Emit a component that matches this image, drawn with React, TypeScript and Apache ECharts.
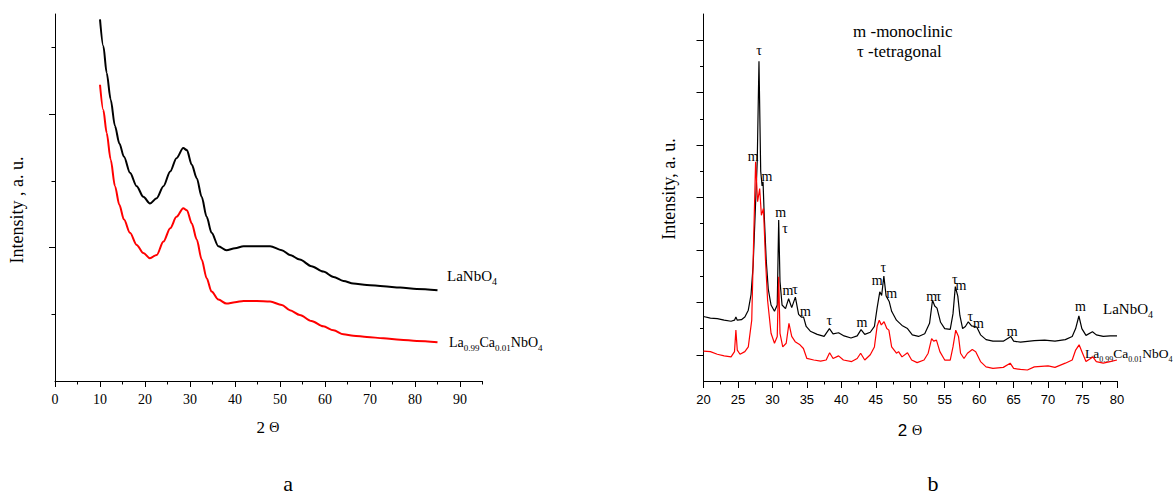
import React, { useEffect, useRef } from "react";
import * as echarts from "echarts";

// ---------- Panel a (amorphous precursors) ----------
const leftTheta = [10, 10.74, 11.48, 12.37, 13.33, 14.3, 15.33, 16.67, 18.15, 19.63, 21.1, 22.6, 24.1, 25.6, 27.0, 28.5, 29.3, 30.4, 31.5, 32.6, 33.7, 34.8, 36.3, 38.1, 40, 41.9, 44.8, 47.8, 50.4, 52.2, 54.4, 57.0, 59.6, 61.9, 64.1, 66.3, 69.3, 73, 76.7, 80.4, 85];
const leftLaNbO4 = [2.71, 2.51, 2.31, 2.11, 1.91, 1.78, 1.68, 1.56, 1.46, 1.38, 1.33, 1.37, 1.46, 1.57, 1.67, 1.745, 1.73, 1.62, 1.52, 1.38, 1.23, 1.11, 1.01, 0.98, 0.995, 1.01, 1.01, 1.01, 0.98, 0.945, 0.91, 0.86, 0.82, 0.78, 0.75, 0.73, 0.72, 0.71, 0.70, 0.69, 0.68];
const leftLaCa = [2.22, 2.03, 1.86, 1.66, 1.46, 1.32, 1.21, 1.11, 1.02, 0.96, 0.92, 0.945, 1.045, 1.145, 1.23, 1.295, 1.28, 1.18, 1.06, 0.91, 0.77, 0.67, 0.61, 0.58, 0.59, 0.60, 0.60, 0.595, 0.57, 0.53, 0.495, 0.45, 0.41, 0.38, 0.35, 0.34, 0.33, 0.32, 0.31, 0.30, 0.29];
const leftXTicks = [0, 10, 20, 30, 40, 50, 60, 70, 80, 90];
const leftXMinor = [5, 15, 25, 35, 45, 55, 65, 75, 85, 95];
const leftYMajor = [1, 2];
const leftYMinor = [0.5, 1.5, 2.5];

// ---------- Panel b (calcined samples) ----------
const rightLaNbO4: [number, number][] = [
  [20, 1.23], [21, 1.2], [22, 1.19], [23, 1.16], [24, 1.14], [24.5, 1.16], [24.7, 1.22], [24.9, 1.16],
  [25.5, 1.17], [26, 1.22], [26.5, 1.35], [26.9, 1.65], [27.2, 2.2], [27.5, 3.2], [27.8, 4.2], [28.05, 6.1],
  [28.3, 4.0], [28.5, 3.72], [28.64, 3.8], [28.8, 3.2], [29.1, 2.3], [29.4, 1.75], [29.8, 1.45], [30.3, 1.33],
  [30.7, 1.45], [30.91, 3.07], [31.1, 1.9], [31.4, 1.45], [31.9, 1.38], [32.35, 1.57], [32.8, 1.4], [33.33, 1.6],
  [33.8, 1.27], [34.2, 1.22], [34.52, 1.22], [34.9, 1.04], [35.5, 0.95], [36.5, 0.89], [37.5, 0.85], [38.27, 1.0],
  [38.8, 0.9], [39.6, 0.92], [40.4, 0.86], [41.4, 0.82], [42.3, 0.86], [42.86, 0.98], [43.4, 0.89], [44.2, 0.93],
  [44.8, 1.04], [45.2, 1.4], [45.58, 1.7], [45.85, 1.63], [46.17, 2.0], [46.5, 1.62], [46.96, 1.51], [47.3, 1.33],
  [48, 1.16], [48.8, 1.06], [49.6, 1.0], [50.3, 0.88], [51.2, 0.85], [52.1, 0.9], [52.8, 1.1], [53.23, 1.54],
  [53.55, 1.43], [53.88, 1.39], [54.4, 1.12], [55, 1.0], [55.8, 0.985], [56.2, 1.28], [56.54, 1.8], [56.9, 1.62],
  [57.2, 1.25], [57.6, 1.0], [58, 1.04], [58.42, 1.13], [58.9, 1.05], [59.65, 1.03], [60.2, 0.88], [61, 0.79],
  [62, 0.76], [63.5, 0.76], [64.6, 0.85], [65, 0.76], [66, 0.74], [68, 0.77], [69.5, 0.78], [71, 0.76],
  [72.5, 0.79], [73.5, 0.85], [74, 1.0], [74.47, 1.24], [74.9, 1.0], [75.5, 0.87], [76.44, 0.94], [77, 0.88],
  [78, 0.85], [79, 0.86], [80, 0.86],
];
const rightLaCa: [number, number][] = [
  [20, 0.57], [21, 0.56], [22, 0.51], [23, 0.48], [24, 0.46], [24.5, 0.56], [24.7, 0.97], [24.9, 0.59],
  [25.3, 0.51], [26, 0.56], [26.5, 0.65], [27, 1.16], [27.3, 2.82], [27.56, 4.18], [27.85, 3.42], [28.15, 3.67],
  [28.4, 3.16], [28.7, 3.29], [29, 2.3], [29.3, 1.54], [29.8, 0.91], [30.3, 0.72], [30.7, 0.85], [30.91, 1.99],
  [31.1, 0.91], [31.5, 0.65], [32, 0.72], [32.4, 1.1], [32.8, 0.85], [33.3, 0.75], [34, 0.69], [34.5, 0.62],
  [35, 0.43], [36, 0.4], [37, 0.38], [37.8, 0.4], [38.3, 0.54], [38.8, 0.43], [39.6, 0.48], [40.3, 0.4],
  [41.5, 0.37], [42.3, 0.43], [42.8, 0.53], [43.4, 0.4], [44.2, 0.5], [44.8, 0.65], [45.2, 1.05], [45.5, 1.16],
  [45.8, 1.07], [46.2, 1.13], [46.6, 1.0], [46.9, 0.97], [47.3, 0.65], [48, 0.53], [48.3, 0.56], [48.8, 0.46],
  [49.6, 0.54], [50.2, 0.4], [51, 0.35], [52, 0.4], [52.6, 0.53], [53.1, 0.81], [53.4, 0.76], [53.8, 0.78],
  [54.3, 0.56], [55, 0.4], [55.8, 0.4], [56.2, 0.65], [56.6, 0.97], [57, 0.85], [57.3, 0.53], [57.8, 0.43],
  [58.3, 0.53], [59, 0.6], [59.5, 0.56], [60.2, 0.37], [61, 0.27], [62, 0.24], [63.5, 0.26], [64.5, 0.34],
  [65, 0.24], [66, 0.22], [67, 0.21], [68, 0.27], [70, 0.29], [71, 0.26], [72.5, 0.34], [73.5, 0.4],
  [74, 0.59], [74.5, 0.69], [75, 0.53], [75.5, 0.37], [76.5, 0.46], [77, 0.37], [78, 0.34], [79, 0.37], [80, 0.4],
];
const peakLabels: [number, number, string][] = [
  [28.05, 6.31, "τ"], [27.2, 4.28, "m"], [29.2, 3.9, "m"], [31.2, 3.22, "m"], [31.85, 2.9, "τ"],
  [32.25, 1.72, "m"], [33.3, 1.74, "τ"], [34.8, 1.32, "m"], [38.27, 1.16, "τ"], [43.0, 1.11, "m"],
  [45.2, 1.91, "m"], [46.1, 2.17, "τ"], [47.3, 1.67, "m"], [53.1, 1.62, "m"], [54.1, 1.62, "τ"],
  [56.45, 1.93, "τ"], [57.35, 1.83, "m"], [58.7, 1.23, "τ"], [59.9, 1.09, "m"], [64.8, 0.95, "m"], [74.7, 1.43, "m"],
];
const rightYMajor = [0.5, 1.5, 2.5, 3.5, 4.5, 5.5, 6.5];
const rightYMinor = [1, 2, 3, 4, 5, 6];

const SERIF = '"Liberation Serif", "Times New Roman", serif';
const SANS = '"Liberation Sans", Arial, sans-serif';
const AX = { color: "#000", width: 1 };

const formulaRich = {
  n: { fontSize: 15, fontFamily: SERIF, fill: "#000", color: "#000", lineHeight: 20 },
  s: { fontSize: 10, fontFamily: SERIF, fill: "#000", color: "#000", lineHeight: 8, verticalAlign: "bottom" },
};
const formulaRichSmall = {
  n: { fontSize: 14, fontFamily: SERIF, fill: "#000", color: "#000", lineHeight: 20 },
  s: { fontSize: 9, fontFamily: SERIF, fill: "#000", color: "#000", lineHeight: 8, verticalAlign: "bottom" },
};
const formulaRichTight = {
  n: { fontSize: 13.5, fontFamily: SERIF, fill: "#000", color: "#000", lineHeight: 20 },
  s: { fontSize: 8, fontFamily: SERIF, fill: "#000", color: "#000", lineHeight: 8, verticalAlign: "bottom" },
};

function textEl(x: number, y: number, text: string, font: string, size: number, align = "center", rotation = 0) {
  return {
    type: "text",
    x,
    y,
    rotation,
    style: { text, fontFamily: font, fontSize: size, fill: "#000", align, verticalAlign: "middle" },
  };
}

export default function App() {
  const ref = useRef<HTMLDivElement>(null);
  useEffect(() => {
    document.body.style.margin = "0";
    const chart = echarts.init(ref.current!, null, { renderer: "svg" });
    const option: any = {
      animation: false,
      backgroundColor: "#fff",
      grid: [
        { left: 55, top: 14, width: 427.5, height: 367 },
        { left: 703.5, top: 14, width: 413.5, height: 367 },
      ],
      xAxis: [
        {
          gridIndex: 0, type: "value", position: "bottom", min: 0, max: 95,
          axisLine: { show: true, onZero: false, lineStyle: AX },
          axisTick: { show: true, length: 6, customValues: leftXTicks, lineStyle: AX },
          axisLabel: { customValues: leftXTicks, fontFamily: SERIF, fontSize: 14, color: "#000", margin: 11 },
          splitLine: { show: false },
        },
        {
          gridIndex: 0, type: "value", position: "bottom", min: 0, max: 95,
          axisLine: { show: false },
          axisTick: { show: true, length: 3.5, customValues: leftXMinor, lineStyle: AX },
          axisLabel: { show: false },
          splitLine: { show: false },
        },
        {
          gridIndex: 1, type: "value", position: "bottom", min: 20, max: 80, interval: 5,
          axisLine: { show: true, onZero: false, lineStyle: AX },
          axisTick: { show: true, length: 7, lineStyle: AX },
          minorTick: { show: true, splitNumber: 2, length: 3.5, lineStyle: AX },
          axisLabel: { fontFamily: SANS, fontSize: 13, color: "#000", margin: 12 },
          splitLine: { show: false },
        },
      ],
      yAxis: [
        {
          gridIndex: 0, type: "value", position: "left", min: 0, max: 2.75,
          axisLine: { show: true, onZero: false, lineStyle: AX },
          axisTick: { show: true, length: 6, customValues: leftYMajor, lineStyle: AX },
          axisLabel: { show: false },
          splitLine: { show: false },
        },
        {
          gridIndex: 0, type: "value", position: "left", min: 0, max: 2.75,
          axisLine: { show: false },
          axisTick: { show: true, length: 3.5, customValues: leftYMinor, lineStyle: AX },
          axisLabel: { show: false },
          splitLine: { show: false },
        },
        {
          gridIndex: 1, type: "value", position: "left", min: 0, max: 7,
          axisLine: { show: true, onZero: false, lineStyle: AX },
          axisTick: { show: true, length: 7, customValues: rightYMajor, lineStyle: AX },
          axisLabel: { show: false },
          splitLine: { show: false },
        },
        {
          gridIndex: 1, type: "value", position: "left", min: 0, max: 7,
          axisLine: { show: false },
          axisTick: { show: true, length: 3.5, customValues: rightYMinor, lineStyle: AX },
          axisLabel: { show: false },
          splitLine: { show: false },
        },
      ],
      series: [
        {
          type: "line", xAxisIndex: 0, yAxisIndex: 0, showSymbol: false, smooth: 0.3, smoothMonotone: "x",
          data: leftTheta.map((t, i) => [t, leftLaNbO4[i]]),
          lineStyle: { color: "#000", width: 2 },
        },
        {
          type: "line", xAxisIndex: 0, yAxisIndex: 0, showSymbol: false, smooth: 0.3, smoothMonotone: "x",
          data: leftTheta.map((t, i) => [t, leftLaCa[i]]),
          lineStyle: { color: "#ff0000", width: 2 },
        },
        {
          type: "line", xAxisIndex: 2, yAxisIndex: 2, showSymbol: false,
          data: rightLaNbO4, lineStyle: { color: "#000", width: 1.2 },
        },
        {
          type: "line", xAxisIndex: 2, yAxisIndex: 2, showSymbol: false,
          data: rightLaCa, lineStyle: { color: "#ff0000", width: 1.2 },
        },
      ],
    };
    chart.setOption(option);

    // peak annotations placed through the right panel's own scales
    const peakEls = peakLabels.map(([x, y, t]) => {
      const p = chart.convertToPixel({ gridIndex: 1 }, [x, y]) as number[];
      return textEl(p[0], p[1], t, SERIF, 14);
    });

    chart.setOption({
      graphic: [
        textEl(17, 210, "Intensity , a. u.", SERIF, 18, "center", Math.PI / 2),
        textEl(669, 189, "Intensity, a. u.", SERIF, 18, "center", Math.PI / 2),
        {
          type: "text", x: 268, y: 427,
          style: {
            text: "{d|2 }{t|Θ}", align: "center", verticalAlign: "middle",
            rich: { d: { fontFamily: SERIF, fontSize: 17, fill: "#000" }, t: { fontFamily: SERIF, fontSize: 14, fill: "#000" } },
          },
        },
        {
          type: "text", x: 910, y: 430,
          style: {
            text: "{d|2 }{t|Θ}", align: "center", verticalAlign: "middle",
            rich: { d: { fontFamily: SANS, fontSize: 17, fill: "#000" }, t: { fontFamily: SERIF, fontSize: 14, fill: "#000" } },
          },
        },
        textEl(288, 483, "a", SERIF, 22),
        textEl(933, 483, "b", SERIF, 22),
        textEl(853, 31, "m -monoclinic", SERIF, 17, "left"),
        textEl(857, 51, "τ -tetragonal", SERIF, 17, "left"),
        {
          type: "text", x: 447, y: 276,
          style: { text: "{n|LaNbO}{s|4}", align: "left", verticalAlign: "middle", rich: formulaRich },
        },
        {
          type: "text", x: 449, y: 342,
          style: { text: "{n|La}{s|0.99}{n|Ca}{s|0.01}{n|NbO}{s|4}", align: "left", verticalAlign: "middle", rich: formulaRichSmall },
        },
        {
          type: "text", x: 1103, y: 309,
          style: { text: "{n|LaNbO}{s|4}", align: "left", verticalAlign: "middle", rich: formulaRich },
        },
        {
          type: "text", x: 1085, y: 353,
          style: { text: "{n|La}{s|0.99}{n|Ca}{s|0.01}{n|NbO}{s|4}", align: "left", verticalAlign: "middle", rich: formulaRichTight },
        },
        ...peakEls,
      ],
    });
    return () => chart.dispose();
  }, []);
  return <div ref={ref} style={{ width: 1174, height: 497 }} />;
}
